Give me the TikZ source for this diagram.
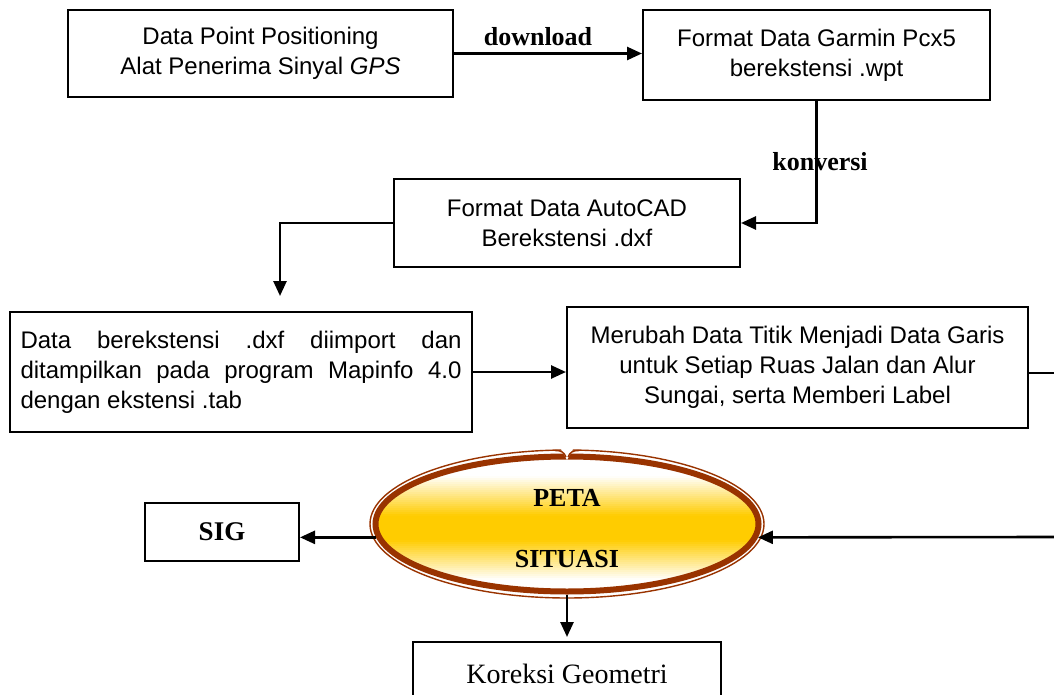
\documentclass[tikz,border=0pt]{standalone}
\usepackage{fontspec}
\setmainfont{Liberation Serif}
\setsansfont{Liberation Sans}
\usetikzlibrary{arrows.meta,shapes.geometric}
\definecolor{rimbrown}{HTML}{993300}
\definecolor{mapgold}{HTML}{FFCC00}
\begin{document}
\begin{tikzpicture}[x=1pt,y=-1pt,
  procbox/.style={draw, line width=2pt, inner sep=0pt, align=center,
    font=\sffamily\fontsize{24}{30}\selectfont},
  flow/.style={line width=2.6pt, -{Triangle[length=15pt,width=13pt]}},
  plain/.style={line width=2.6pt},
  tag/.style={font=\bfseries\fontsize{26}{30}\selectfont, inner sep=0pt}]
\useasboundingbox (0,0) rectangle (1054,695);
\clip (0,0) rectangle (1054,695);

% process boxes
\node[procbox, minimum width=385pt, minimum height=87pt] (gps) at (260.5,53.5)
  {Data Point Positioning\\Alat Penerima Sinyal \textit{GPS}};
\node[procbox, minimum width=347pt, minimum height=90pt] (garmin) at (816.5,55)
  {Format Data Garmin Pcx5\\berekstensi .wpt};
\node[procbox, minimum width=346pt, minimum height=88pt] (autocad) at (567,223)
  {Format Data AutoCAD\\Berekstensi .dxf};
\node[procbox, minimum width=462pt, minimum height=120pt, text width=441pt, align=justify] (mapinfo) at (241,372)
  {Data berekstensi .dxf diimport dan\linebreak ditampilkan pada program Mapinfo 4.0\linebreak dengan ekstensi .tab};
\node[procbox, minimum width=461pt, minimum height=121pt] (garis) at (797.5,367.5)
  {Merubah Data Titik Menjadi Data Garis\\untuk Setiap Ruas Jalan dan Alur\\Sungai, serta Memberi Label};
\node[procbox, minimum width=154pt, minimum height=58pt, font=\bfseries\fontsize{27}{30}\selectfont] (sig) at (222,532) {SIG};
\node[procbox, minimum width=308pt, minimum height=63pt, font=\rmfamily\fontsize{28}{32}\selectfont] (koreksi) at (567,673.5) {Koreksi Geometri};

% gold band fading to white towards the top and bottom of the ellipse
\begin{scope}
  \clip (567,524) ellipse [x radius=192pt, y radius=68pt];
  \foreach \d in {-70,-68,...,70} {
    \pgfmathsetmacro\gp{100*min(1,max(0,(52-abs(\d-3))/40))}
    \fill[mapgold!\gp!white] (360,524+\d) rectangle (780,524+\d+2.6);
  }
\end{scope}

% map ellipse with double brown rim
\node[ellipse, draw=rimbrown, line width=6pt,
  minimum width=383pt, minimum height=135pt, inner sep=0pt, align=center,
  font=\bfseries\fontsize{26}{30}\selectfont] (peta) at (567,524)
  {\rule{0pt}{27pt}PETA\\[31pt]SITUASI};
\draw[rimbrown, line width=1.4pt] (peta.center) ellipse [x radius=197pt, y radius=74pt];
% small fold at the top of the rim
\fill[white] (561,449) -- (573,449) -- (567,460) -- cycle;
\draw[rimbrown, line width=1.4pt] (555,450.5) .. controls (561,450.5) and (564,452) .. (566,457)
  (568,457) .. controls (570,452) and (573,450.5) .. (579,450.5);

% connectors
\draw[flow] (gps.east) -- (gps.east -| garmin.west);
\node[tag] (dl) at (538,37) {download};
\draw[flow] (garmin.south) |- (autocad.east);
\node[tag] (kv) at (820,162) {konversi};
\draw[flow, shorten >=15pt] (autocad.west) -| ([xshift=39pt]mapinfo.north);
\draw[flow] (mapinfo.east) -- (mapinfo.east -| garis.west);
\coordinate (edgeA) at (1054,373);
\coordinate (edgeB) at (1054,537);
\draw[plain] ([yshift=-5.5pt]garis.east) -- (edgeA);
\draw[flow] (edgeB) -- (peta.-4);
\draw[flow] (peta.184) -- (peta.184 -| sig.east);
\draw[flow, shorten >=4pt] (peta.south) -- (koreksi.north);
\end{tikzpicture}
\end{document}
